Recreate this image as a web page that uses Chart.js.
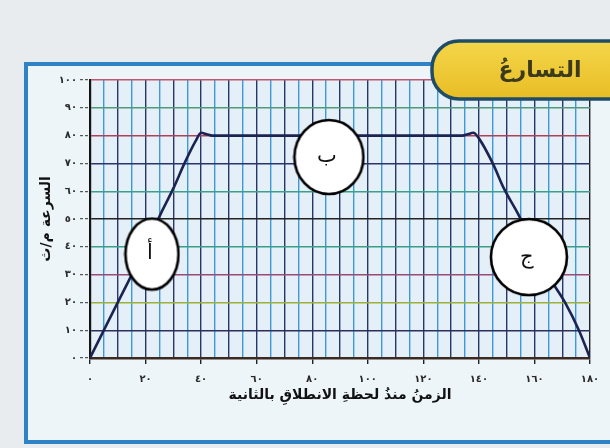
<!DOCTYPE html>
<html><head><meta charset="utf-8">
<script src="https://cdn.jsdelivr.net/npm/chart.js@4"></script>
<style>html,body{margin:0;padding:0;background:#e8ecee;}canvas{display:block}</style>
</head><body>
<canvas id="c" width="610" height="448"></canvas>
<script>
// ---- data ----
const timeSeconds = [0, 10, 20, 26, 30, 34, 38, 40, 42, 44, 134, 136, 138, 140, 145, 149, 154, 160, 166, 171, 176, 180];
const speedValues = [0, 20, 40, 53, 61, 70, 78, 81, 80.5, 80, 80, 80.5, 81, 79, 70, 61, 52, 40, 28, 20, 10, 0];
const xTickValues = [0, 20, 40, 60, 80, 100, 120, 140, 160, 180];
const xTickLabels = ['٠', '٢٠', '٤٠', '٦٠', '٨٠', '١٠٠', '١٢٠', '١٤٠', '١٦٠', '١٨٠'];
const yTickLabels = ['٠', '١٠', '٢٠', '٣٠', '٤٠', '٥٠', '٦٠', '٧٠', '٨٠', '٩٠', '١٠٠'];
const markerLetters = ['أ', 'ب', 'ج'];
const markerTimes = [22.3, 86, 158];
const markerSpeeds = [37.4, 72.3, 36.3];
const chartTitle = 'التسارعُ';
const xTitle = 'الزمنُ منذُ لحظةِ الانطلاقِ بالثانية';
const yTitle = 'السرعة م/ث';

// ---- marker shapes (ellipses) ----
function ellipseCanvas(w, h) {
  const cv = document.createElement('canvas');
  cv.width = w; cv.height = h;
  const g = cv.getContext('2d');
  g.beginPath();
  g.ellipse(w / 2, h / 2, w / 2 - 2, h / 2 - 2, 0, 0, Math.PI * 2);
  g.fillStyle = '#ffffff'; g.fill();
  g.lineWidth = 2.6; g.strokeStyle = '#000000'; g.stroke();
  return cv;
}
const markerShapes = [ellipseCanvas(57, 75), ellipseCanvas(73, 78), ellipseCanvas(80, 80)];

const frameAndBox = {
  id: 'frameAndBox',
  beforeDraw(chart) {
    const ctx = chart.ctx, a = chart.chartArea;
    ctx.save();
    ctx.fillStyle = '#e8ecee';
    ctx.fillRect(0, 0, chart.width, chart.height);
    ctx.fillStyle = '#eef5f9';
    ctx.fillRect(26, 64, 620, 378);
    ctx.lineWidth = 4;
    ctx.strokeStyle = '#2f83c4';
    ctx.strokeRect(26, 64, 620, 378);
    ctx.fillStyle = '#e4eff7';
    ctx.fillRect(a.left, a.top, a.right - a.left, a.bottom - a.top);
    ctx.restore();
  },
  afterDatasetsDraw(chart) {
    const ctx = chart.ctx, xs = chart.scales.x, ys = chart.scales.y;
    ctx.save();
    ctx.fillStyle = '#111';
    ctx.font = '21px "DejaVu Sans"';
    ctx.textAlign = 'center';
    ctx.textBaseline = 'middle';
    markerLetters.forEach((l, i) => {
      ctx.fillText(l, xs.getPixelForValue(markerTimes[i]) - 2, ys.getPixelForValue(markerSpeeds[i]));
    });
    ctx.restore();
  },
  afterDraw(chart) {
    const ctx = chart.ctx;
    ctx.save();
    const x0 = 432, y0 = 41, x1 = 620, y1 = 99, r = 27;
    ctx.beginPath();
    ctx.moveTo(x1, y0);
    ctx.lineTo(x0 + r, y0);
    ctx.arcTo(x0, y0, x0, y0 + r, r);
    ctx.arcTo(x0, y1, x0 + r, y1, r);
    ctx.lineTo(x1, y1);
    ctx.closePath();
    const gr = ctx.createLinearGradient(0, y0, 0, y1);
    gr.addColorStop(0, '#f4d64a');
    gr.addColorStop(1, '#e8bd25');
    ctx.fillStyle = gr;
    ctx.fill();
    ctx.lineWidth = 3.5;
    ctx.strokeStyle = '#1f4d68';
    ctx.stroke();
    ctx.fillStyle = '#3b3a1c';
    ctx.font = 'bold 22px "DejaVu Sans"';
    ctx.textAlign = 'center';
    ctx.textBaseline = 'middle';
    ctx.fillText(chartTitle, 540, 71);
    ctx.restore();
  }
};

const yLineColors = ['#3a2a22', '#2c2f5e', '#9bb23a', '#9a4a78', '#3a9e86', '#222222', '#3aa08a', '#2a3470', '#b0405a', '#4f9a7a', '#c2566e'];

new Chart(document.getElementById('c'), {
  type: 'line',
  data: {
    datasets: [
      {
        type: 'scatter',
        data: markerTimes.map((t, i) => ({ x: t, y: markerSpeeds[i] })),
        pointStyle: markerShapes,
        order: 0,
        clip: false
      },
      {
        data: timeSeconds.map((t, i) => ({ x: t, y: speedValues[i] })),
        borderColor: '#1b2352',
        borderWidth: 2.6,
        pointRadius: 0,
        tension: 0.35,
        cubicInterpolationMode: 'monotone',
        fill: false,
        order: 1
      }
    ]
  },
  plugins: [frameAndBox],
  options: {
    responsive: false,
    animation: false,
    devicePixelRatio: 1,
    events: [],
    layout: { padding: { left: 28, right: 20, top: 80, bottom: 30 } },
    plugins: { legend: { display: false }, tooltip: { enabled: false } },
    scales: {
      x: {
        type: 'linear', min: 0, max: 180,
        afterFit(s) { s.height = 60; },
        ticks: {
          stepSize: 5, autoSkip: false, maxRotation: 0, padding: 9,
          color: '#2a2a2a', font: { family: 'DejaVu Sans', size: 10, weight: 'bold' },
          callback(v) { const k = xTickValues.indexOf(v); return k >= 0 ? xTickLabels[k] : ''; }
        },
        grid: {
          lineWidth: 1.4,
          color(c) { const v = c.tick ? c.tick.value : 0; return v === 180 ? '#222' : (v % 10 === 0 ? '#28376a' : '#3d9ad6'); },
          tickLength: 6,
          tickWidth: 1.4,
          tickColor(c) { const v = c.tick ? c.tick.value : 1; return v % 20 === 0 ? '#222' : 'rgba(0,0,0,0)'; }
        },
        border: { color: '#3a2a22', width: 2.6 },
        title: {
          display: true, text: xTitle, color: '#111',
          font: { family: 'DejaVu Sans', size: 14, weight: 'bold' },
          padding: { top: 0, bottom: 14 }
        }
      },
      y: {
        min: 0, max: 100,
        afterFit(s) { s.width = 62; },
        ticks: {
          stepSize: 10, padding: 3,
          color: '#2a2a2a', font: { family: 'DejaVu Sans', size: 10, weight: 'bold' },
          callback(v) { return yTickLabels[Math.round(v / 10)]; }
        },
        grid: {
          lineWidth: 1.4,
          color(c) { const i = c.tick ? Math.round(c.tick.value / 10) : 0; return yLineColors[i]; },
          tickLength: 10,
          tickColor: '#333',
          tickWidth: 1,
          tickBorderDash: [3, 2]
        },
        border: { color: '#151515', width: 2.2 },
        title: {
          display: true, text: yTitle, color: '#111',
          font: { family: 'DejaVu Sans', size: 14, weight: 'bold' },
          padding: { top: 10, bottom: 4 }
        }
      }
    }
  }
});
</script>
</body></html>
